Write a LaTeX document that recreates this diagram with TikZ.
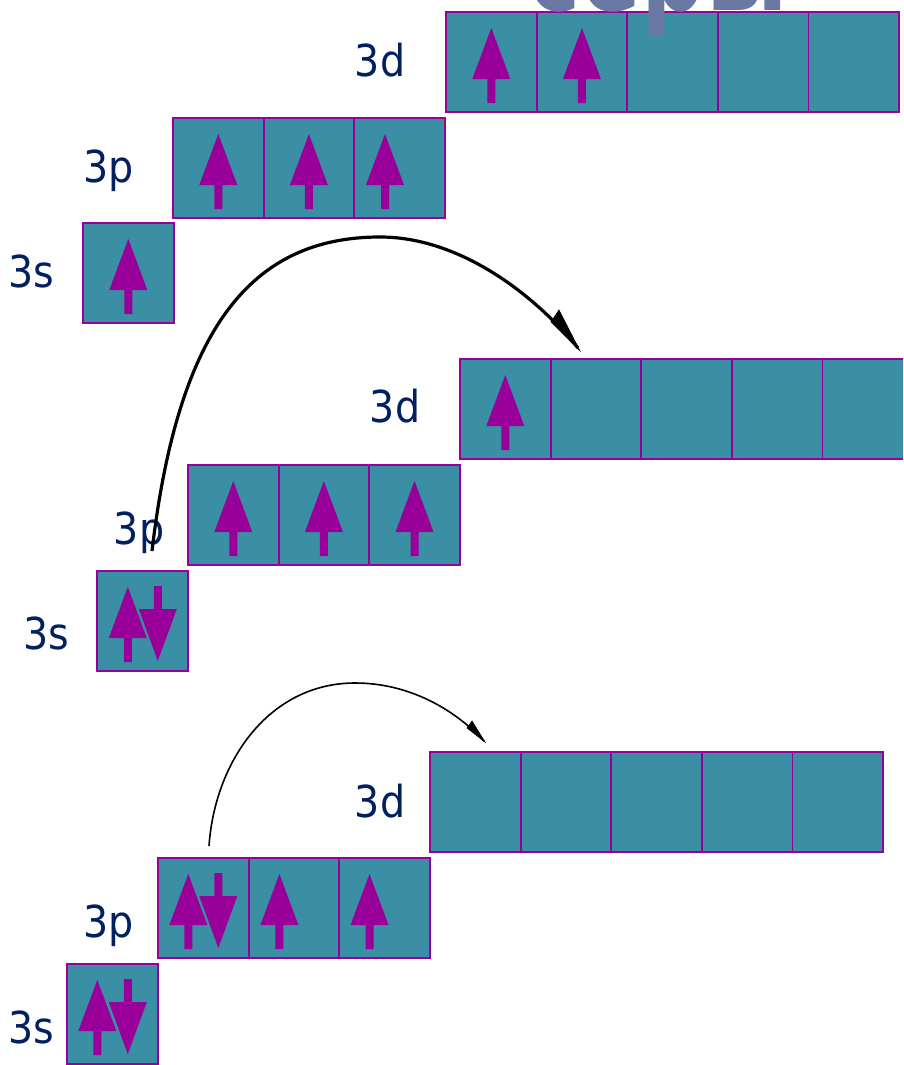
\documentclass[tikz,border=0pt]{standalone}
\usepackage{fontspec}
\setmainfont{DejaVu Sans}[FakeStretch=0.9]
\newfontfamily\headfont{DejaVu Sans}[FakeStretch=0.72]
\usetikzlibrary{arrows.meta}

\definecolor{orbfill}{RGB}{58,143,165}
\definecolor{orbedge}{RGB}{153,0,153}
\definecolor{spin}{RGB}{153,0,153}
\definecolor{lbl}{RGB}{0,32,96}
\definecolor{ttl}{RGB}{107,120,163}

\tikzset{
  orb/.style={draw=orbedge, fill=orbfill, line width=1.8pt,
    minimum width=90.6pt, minimum height=100pt, inner sep=0pt, outer sep=0pt},
  lvl/.style={text=lbl, font=\fontsize{44}{44}\selectfont, anchor=base, inner sep=0pt},
  spinup/.pic={\fill[spin] (-4,41) -- (-4,17) -- (-19,17) -- (0,-34) -- (19,17)
    -- (4,17) -- (4,41) -- cycle;},
  spindn/.pic={\fill[spin] (-4,-35) -- (-4,-12) -- (-19,-12) -- (0,40) -- (19,-12)
    -- (4,-12) -- (4,-35) -- cycle;},
  jumpbig/.style={draw=black, line width=3.2pt},
  jumpsmall/.style={draw=black, line width=1.6pt},
  barb/.style={fill=black, draw=black, line width=0.6pt, line join=miter}
}

\begin{document}
\begin{tikzpicture}[x=1pt, y=-1pt]
\useasboundingbox (0,0) rectangle (903,1065);
\clip (0,0) rectangle (903,1065);

% ---------- ground state ----------
\foreach \i in {0,...,4}
  \node[orb] (d1\i) at (491.3+90.6*\i, 62) {};
\foreach \i in {0,1,2}
  \node[orb] (p1\i) at (218.3+90.6*\i, 168) {};
\node[orb] (s1) at (128.3, 273) {};
\pic at (d10.center) {spinup};
\pic at (d11.center) {spinup};
\pic at (p10.center) {spinup};
\pic at (p11.center) {spinup};
\pic at ([xshift=-14.5pt]p12.center) {spinup};
\pic at (s1.center) {spinup};
\node[lvl] (l1d) at (380,77) {3d};
\node[lvl] (l1p) at (108.5,182) {3p};
\node[lvl] (l1s) at (31.5,287) {3s};

% ---------- first excited state ----------
\foreach \i in {0,...,4}
  \node[orb] (d2\i) at (505.3+90.6*\i, 409) {};
\foreach \i in {0,1,2}
  \node[orb] (p2\i) at (233.3+90.6*\i, 515) {};
\node[orb] (s2) at (142.3, 621) {};
\pic at (d20.center) {spinup};
\pic at (p20.center) {spinup};
\pic at (p21.center) {spinup};
\pic at (p22.center) {spinup};
\pic at ([xshift=-14.5pt]s2.center) {spinup};
\pic at ([xshift=15.5pt]s2.center) {spindn};
\node[lvl] (l2d) at (395,422) {3d};
\node[lvl] (l2p) at (139,544) {3p};
\node[lvl] (l2s) at (46.5,649) {3s};

% ---------- second excited state ----------
\foreach \i in {0,...,4}
  \node[orb] (d3\i) at (475.3+90.6*\i, 802) {};
\foreach \i in {0,1,2}
  \node[orb] (p3\i) at (203.3+90.6*\i, 908) {};
\node[orb] (s3) at (112.3, 1014) {};
\pic at ([xshift=-15pt]p30.center) {spinup};
\pic at ([xshift=15pt]p30.center) {spindn};
\pic at ([xshift=-14.5pt]p31.center) {spinup};
\pic at ([xshift=-15pt]p32.center) {spinup};
\pic at ([xshift=-15pt]s3.center) {spinup};
\pic at ([xshift=15.5pt]s3.center) {spindn};
\node[lvl] (l3d) at (380,817) {3d};
\node[lvl] (l3p) at (108.5,937) {3p};
\node[lvl] (l3s) at (31,1043) {3s};

% ---------- electron jumps ----------
\coordinate (j1s) at (152,551);
\coordinate (j1t) at (380,237);
\coordinate (j1e) at (578,348);
\draw[jumpbig] (j1s) .. controls (178,330) and (250,237) .. (j1t)
  .. controls (458,237) and (532,292) .. (j1e);
\path[barb] (580,351) -- (559,310) -- (551,322) -- cycle;

\coordinate (j2s) at (209,846);
\coordinate (j2t) at (355,683);
\coordinate (j2e) at (484,741);
\draw[jumpsmall] (j2s) .. controls (215,760) and (270,683) .. (j2t)
  .. controls (410,683) and (455,710) .. (j2e);
\path[barb] (485,742) -- (472,721) -- (467,728) -- cycle;

% ---------- heading ----------
\node[anchor=base west, inner sep=0pt, text=ttl,
  font=\headfont\bfseries\fontsize{125}{125}\selectfont] (title) at (527,11) {серы};
\end{tikzpicture}
\end{document}
